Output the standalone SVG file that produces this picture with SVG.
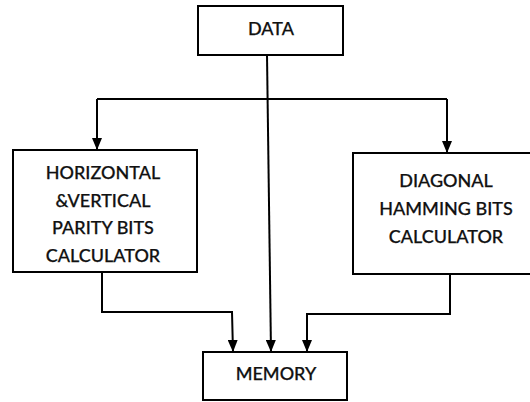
<svg xmlns="http://www.w3.org/2000/svg" width="530" height="402" viewBox="0 0 530 402">
<style>
.box{fill:#fff;stroke:#000;stroke-width:2}
.t{font-family:Lato,"Open Sans","Liberation Sans",sans-serif;font-size:18px;font-weight:500;fill:#111;text-anchor:middle;stroke:#111;stroke-width:0.25}
.c{fill:none;stroke:#000;stroke-width:2}
</style>
<defs>
<marker id="a" viewBox="0 0 12 10" refX="12" refY="5" markerWidth="12" markerHeight="10" markerUnits="userSpaceOnUse" orient="auto">
<path d="M0,0 L12,5 L0,10 Z" fill="#000"/>
</marker>
</defs>
<g id="data"><rect class="box" x="198" y="6" width="145" height="49"/><text class="t" x="271" y="35">DATA</text></g>
<g id="hv"><rect class="box" x="13" y="150" width="184" height="122"/>
<text class="t" x="103" y="179">HORIZONTAL</text>
<text class="t" x="103" y="207">&amp;VERTICAL</text>
<text class="t" x="103" y="234">PARITY BITS</text>
<text class="t" x="103" y="262">CALCULATOR</text></g>
<g id="diag"><rect class="box" x="353" y="153" width="190" height="121"/>
<text class="t" x="446" y="187">DIAGONAL</text>
<text class="t" x="446" y="215">HAMMING BITS</text>
<text class="t" x="446" y="243">CALCULATOR</text></g>
<g id="mem"><rect class="box" x="203" y="352" width="144" height="48"/><text class="t" x="276" y="380">MEMORY</text></g>
<g id="connectors">
<path class="c" d="M267,55 L271,352" marker-end="url(#a)"/>
<path class="c" d="M97,99 L447,99"/>
<path class="c" d="M97,99 L97,150" marker-end="url(#a)"/>
<path class="c" d="M447,99 L447,153" marker-end="url(#a)"/>
<path class="c" d="M102,272 L102,312 L232,312 L233,352" marker-end="url(#a)"/>
<path class="c" d="M450,274 L450,314 L307,314 L307,352" marker-end="url(#a)"/>
</g>
</svg>
